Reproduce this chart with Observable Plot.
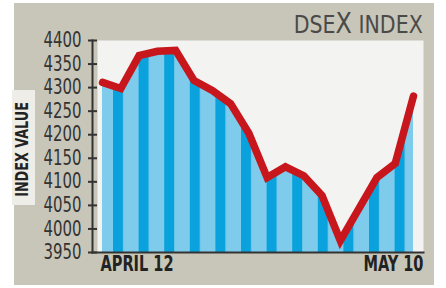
<!DOCTYPE html>
<html>
<head>
<meta charset="utf-8">
<script src="https://cdn.jsdelivr.net/npm/d3@7"></script>
<script src="https://cdn.jsdelivr.net/npm/@observablehq/plot@0.6"></script>
<style>
  html, body { margin: 0; padding: 0; background: #ffffff; }
  #wrap { position: relative; width: 446px; height: 288px; overflow: hidden; background: #ffffff; }
  #panel { position: absolute; left: 14px; top: 3px; width: 420px; height: 282px; background: #c8c6b8; }
  #labelbox { position: absolute; left: 12px; top: 90px; width: 23px; height: 115px; background: #eeede8; }
  #title { position: absolute; right: 23px; top: 12px; font-family: 'DejaVu Sans Condensed', 'Liberation Sans Narrow', sans-serif; font-size: 24px; line-height: 24px; color: #4a4a4a; white-space: nowrap; transform: scaleX(0.95); transform-origin: right center; }
  #title .big { font-size: 28px; }
  #chart { position: absolute; left: 0; top: 0; }
  #chart svg [aria-label^="y-axis"] line, #chart svg [aria-label^="y-axis"] path { stroke-width: 2px; }
</style>
</head>
<body>
<div id="wrap">
  <div id="panel"></div>
  <div id="labelbox"></div>
  <div id="chart"></div>
  <div id="title">DSE<span class="big">X</span> INDEX</div>
</div>
<script>
// Data
const dayIndex = [0, 1, 2, 3, 4, 5, 6, 7, 8, 9, 10, 11, 12, 13, 14, 15, 16, 17];
const indexValues = [4311, 4298, 4368, 4377, 4379, 4315, 4294, 4266, 4203, 4109, 4132, 4113, 4071, 3975, 4042, 4109, 4139, 4282];
const xLabels = ["APRIL 12", "MAY 10"];
const yTicks = [3950, 4000, 4050, 4100, 4150, 4200, 4250, 4300, 4350, 4400];
const yLabel = "INDEX VALUE";

const data = dayIndex.map((i, k) => ({i, v: indexValues[k]}));
const FONT = "'DejaVu Sans Condensed', 'Liberation Sans Narrow', sans-serif";

const chart = Plot.plot({
  width: 446,
  height: 288,
  marginLeft: 97,
  marginRight: 23,
  marginTop: 40,
  marginBottom: 36,
  style: {background: "transparent", overflow: "visible", fontFamily: FONT, fontSize: "20.5px", color: "#333"},
  x: {domain: [dayIndex[0], dayIndex[dayIndex.length - 1]], insetLeft: 5, insetRight: 10, axis: null},
  y: {domain: [yTicks[0], yTicks[yTicks.length - 1]], axis: "left", ticks: yTicks, tickSize: 9, tickPadding: 7, label: null, tickFormat: d => String(d)},
  marks: [
    Plot.frame({fill: "#f3f3f1", stroke: null}),
    Plot.areaY(data, {x: "i", y1: yTicks[0], y2: "v", fill: "url(#dsexStripes)"}),
    Plot.lineY(data, {x: "i", y: "v", stroke: "#c8161d", strokeWidth: 7.5, strokeLinejoin: "miter", strokeMiterlimit: 10}),
    Plot.frame({anchor: "left", dx: -5, stroke: "#333", strokeWidth: 2}),
    Plot.frame({anchor: "bottom", insetLeft: -5, stroke: "#333", strokeWidth: 2}),
    Plot.text([xLabels[0]], {frameAnchor: "bottom-left", textAnchor: "start", dx: 3, dy: 18, fontWeight: "bold", fontSize: 21, fill: "#222", fontFamily: FONT}),
    Plot.text([xLabels[1]], {frameAnchor: "bottom-right", textAnchor: "end", dx: 0, dy: 18, fontWeight: "bold", fontSize: 21, fill: "#222", fontFamily: FONT}),
    Plot.text([yLabel], {frameAnchor: "left", textAnchor: "middle", rotate: -90, dx: -75, dy: 3, fontWeight: "bold", fontSize: 18, fill: "#222", fontFamily: FONT})
  ]
});

// horizontally condense text (the original uses a condensed face)
function condense(el, s) {
  const t = el.getAttribute("transform") || "";
  const x = +(el.getAttribute("x") || 0);
  el.removeAttribute("x");
  el.setAttribute("transform", `${t} translate(${x},0) scale(${s},1)`.trim());
}
chart.querySelectorAll('[aria-label^="y-axis"] text').forEach(el => condense(el, 0.81));
const textGroups = chart.querySelectorAll('g[aria-label="text"]');
textGroups.forEach((g, k) => {
  g.querySelectorAll("text").forEach(el => condense(el, k < 2 ? 0.77 : 0.79));
});

// stripe texture for the area under the line
const ns = "http://www.w3.org/2000/svg";
const defs = document.createElementNS(ns, "defs");
const pat = document.createElementNS(ns, "pattern");
pat.setAttribute("id", "dsexStripes");
pat.setAttribute("patternUnits", "userSpaceOnUse");
pat.setAttribute("x", "10.6");
pat.setAttribute("y", "0");
pat.setAttribute("width", "25.6");
pat.setAttribute("height", "10");
const light = document.createElementNS(ns, "rect");
light.setAttribute("width", "25.6"); light.setAttribute("height", "10"); light.setAttribute("fill", "#7ecbec");
const dark = document.createElementNS(ns, "rect");
dark.setAttribute("width", "10"); dark.setAttribute("height", "10"); dark.setAttribute("fill", "#0aa2dc");
pat.appendChild(light); pat.appendChild(dark);
defs.appendChild(pat);
chart.insertBefore(defs, chart.firstChild);

document.getElementById("chart").appendChild(chart);
</script>
</body>
</html>
